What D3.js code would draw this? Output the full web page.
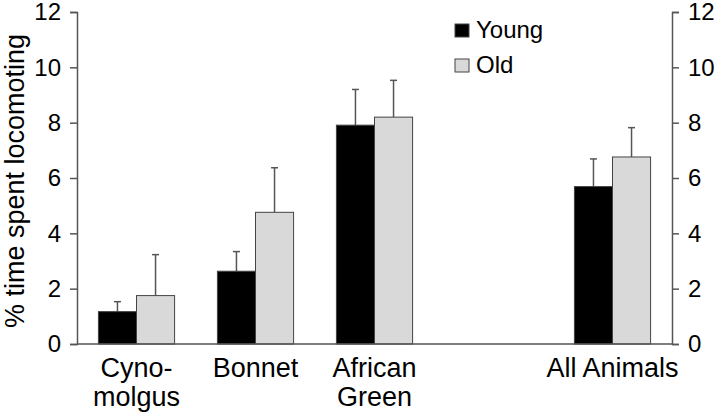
<!DOCTYPE html>
<html>
<head>
<meta charset="utf-8">
<script src="https://cdn.jsdelivr.net/npm/d3@7"></script>
<style>
  body { margin: 0; background: #fff; }
  text { font-family: "Liberation Sans", Arial, sans-serif; fill: #000; }
</style>
</head>
<body>
<svg id="chart"></svg>
<script>
const categories = ["Cyno-molgus", "Bonnet", "African Green", "gap", "All Animals"];
const categoryLabels = [["Cyno-", "molgus"], ["Bonnet"], ["African", "Green"], [], ["All Animals"]];
const seriesNames = ["Young", "Old"];
const youngMeans = [1.17, 2.63, 7.91, null, 5.69];
const youngErrors = [0.36, 0.71, 1.29, null, 1.0];
const oldMeans = [1.75, 4.76, 8.2, null, 6.76];
const oldErrors = [1.48, 1.61, 1.33, null, 1.06];
const yTicks = [0, 2, 4, 6, 8, 10, 12];

function main() {
    const width = 718;
    const height = 420;
    const left = 77, right = 672, top = 12, bottom = 344;

    const svg = d3.select("#chart").attr("width", width).attr("height", height);

    const x = d3.scaleBand().domain(categories).range([left, right])
        .paddingInner(0.36).paddingOuter(0.18);
    const xs = d3.scaleBand().domain(seriesNames).range([0, x.bandwidth()]);
    const y = d3.scaleLinear().domain([0, 12]).range([bottom, top]);

    const series = [
        { name: "Young", means: youngMeans, errors: youngErrors, fill: "#000000" },
        { name: "Old", means: oldMeans, errors: oldErrors, fill: "#d9d9d9" }
    ];

    const rows = [];
    series.forEach(s => {
        categories.forEach((c, i) => {
            if (s.means[i] != null) rows.push({ cat: c, name: s.name, v: s.means[i], e: s.errors[i], fill: s.fill });
        });
    });

    // error bars (behind bars)
    const eb = svg.append("g").attr("stroke", "#555").attr("stroke-width", 1.5);
    rows.forEach(d => {
        const cx = x(d.cat) + xs(d.name) + xs.bandwidth() / 2;
        eb.append("line").attr("x1", cx).attr("x2", cx).attr("y1", y(d.v)).attr("y2", y(d.v + d.e));
        eb.append("line").attr("x1", cx - 3.5).attr("x2", cx + 3.5).attr("y1", y(d.v + d.e)).attr("y2", y(d.v + d.e));
    });

    svg.append("g").selectAll("rect").data(rows).join("rect")
        .attr("x", d => x(d.cat) + xs(d.name))
        .attr("y", d => y(d.v))
        .attr("width", xs.bandwidth())
        .attr("height", d => y(0) - y(d.v))
        .attr("fill", d => d.fill)
        .attr("stroke", "#444")
        .attr("stroke-width", 1);

    const leftAxis = d3.axisLeft(y).tickValues(yTicks).tickSizeOuter(0).tickSize(7).tickPadding(9);
    const rightAxis = d3.axisRight(y).tickValues(yTicks).tickSizeOuter(0).tickSize(7).tickPadding(9);

    [svg.append("g").attr("transform", "translate(" + left + ",0)").call(leftAxis),
     svg.append("g").attr("transform", "translate(" + right + ",0)").call(rightAxis)].forEach(g => {
        g.attr("font-family", null);
        g.select(".domain").attr("stroke", "#555").attr("stroke-width", 1.5);
        g.selectAll(".tick line").attr("stroke", "#555").attr("stroke-width", 1.5);
        g.selectAll(".tick text").attr("font-size", 24).attr("fill", "#000");
    });

    // baseline
    svg.append("line").attr("x1", left).attr("x2", right).attr("y1", y(0)).attr("y2", y(0))
        .attr("stroke", "#555").attr("stroke-width", 1.5);

    // category labels
    categories.forEach((c, i) => {
        const cx = x(c) + x.bandwidth() / 2;
        const t = svg.append("text").attr("text-anchor", "middle").attr("font-size", 27)
            .attr("x", cx).attr("y", 377);
        categoryLabels[i].forEach((line, j) => {
            t.append("tspan").attr("x", cx).attr("dy", j === 0 ? 0 : 29).text(line);
        });
    });

    // y title
    svg.append("text").attr("transform", "translate(24,181) rotate(-90)")
        .attr("text-anchor", "middle").attr("font-size", 27).text("% time spent locomoting");

    // legend
    const legend = svg.append("g").attr("transform", "translate(455,24)");
    series.forEach((s, i) => {
        const g = legend.append("g").attr("transform", "translate(0," + (i * 35) + ")");
        g.append("rect").attr("width", 14).attr("height", 13).attr("fill", s.fill).attr("stroke", "#444");
        g.append("text").attr("x", 21).attr("y", 14).attr("font-size", 24).text(s.name);
    });
}

main();
</script>
</body>
</html>
